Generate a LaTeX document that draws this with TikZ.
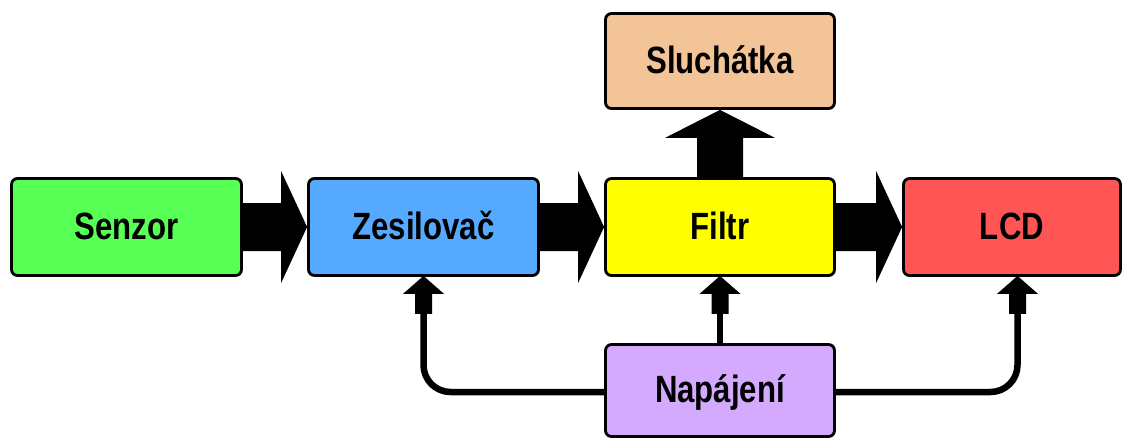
\documentclass[tikz,border=0pt]{standalone}
\usepackage{fontspec}
\newfontfamily\lab{Liberation Sans}[FakeStretch=0.82]
\usetikzlibrary{calc,backgrounds}
\definecolor{cgreen}{HTML}{58FF55}
\definecolor{cblue}{HTML}{55AAFF}
\definecolor{cyellow}{HTML}{FFFF00}
\definecolor{cred}{HTML}{FF5555}
\definecolor{cpeach}{HTML}{F4C499}
\definecolor{cviolet}{HTML}{D4AAFF}
\newcommand\bigarrowh[2]{%
  \fill ($(#1.east)+(0,-24)$) -- ($(#2.west)+(-26,-24)$) -- ($(#2.west)+(-26,-56)$) -- (#2.west)
    -- ($(#2.west)+(-26,56)$) -- ($(#2.west)+(-26,24)$) -- ($(#1.east)+(0,24)$) -- cycle;}
\begin{document}
\begin{tikzpicture}[x=1pt,y=-1pt,
  box/.style={draw=black,line width=2.8pt,rounded corners=6pt,inner sep=0pt,
    font=\lab\bfseries\fontsize{38}{40}\selectfont,text height=24pt,text depth=0pt},
  feed/.style={line width=6.5pt,rounded corners=27pt},
  smallhead/.pic={\fill (0,-1) -- (20.5,17) -- (8.5,17) -- (8.5,37) -- (-8.5,37) -- (-8.5,17) -- (-20.5,17) -- cycle;}]
\useasboundingbox (0,0) rectangle (1123,439);
\node[box,fill=cgreen,minimum width=230pt,minimum height=97pt] (S) at (126.5,227) {Senzor};
\node[box,fill=cblue,minimum width=230pt,minimum height=97pt] (Z) at (423.5,227) {Zesilova\v{c}};
\node[box,fill=cyellow,minimum width=229pt,minimum height=97pt] (F) at (720,227) {Filtr};
\node[box,fill=cred,minimum width=217pt,minimum height=97pt] (L) at (1012,227) {LCD};
\node[box,fill=cpeach,minimum width=229pt,minimum height=95pt] (H) at (720,61) {Sluch\'atka};
\node[box,fill=cviolet,minimum width=229pt,minimum height=92pt] (N) at (720,390.5) {Nap\'ajen\'i};
\begin{pgfonlayer}{background}
  \bigarrowh{S}{Z}
  \bigarrowh{Z}{F}
  \bigarrowh{F}{L}
  \fill ($(F.north)+(-23,0)$) -- ($(H.south)+(-23,28)$) -- ($(H.south)+(-55,28)$) -- (H.south)
    -- ($(H.south)+(55,28)$) -- ($(H.south)+(23,28)$) -- ($(F.north)+(23,0)$) -- cycle;
  \draw[feed] ($(N.west)+(0,1.5)$) -| ($(Z.south)+(0,35)$);
  \pic at (Z.south) {smallhead};
  \draw[feed] ($(N.east)+(0,1.5)$) -| ($(L.south)+(5.5,35)$);
  \pic at ($(L.south)+(5.5,0)$) {smallhead};
  \draw[line width=6pt] (N.north) -- ($(F.south)+(0,35)$);
  \pic at (F.south) {smallhead};
\end{pgfonlayer}
\end{tikzpicture}
\end{document}
